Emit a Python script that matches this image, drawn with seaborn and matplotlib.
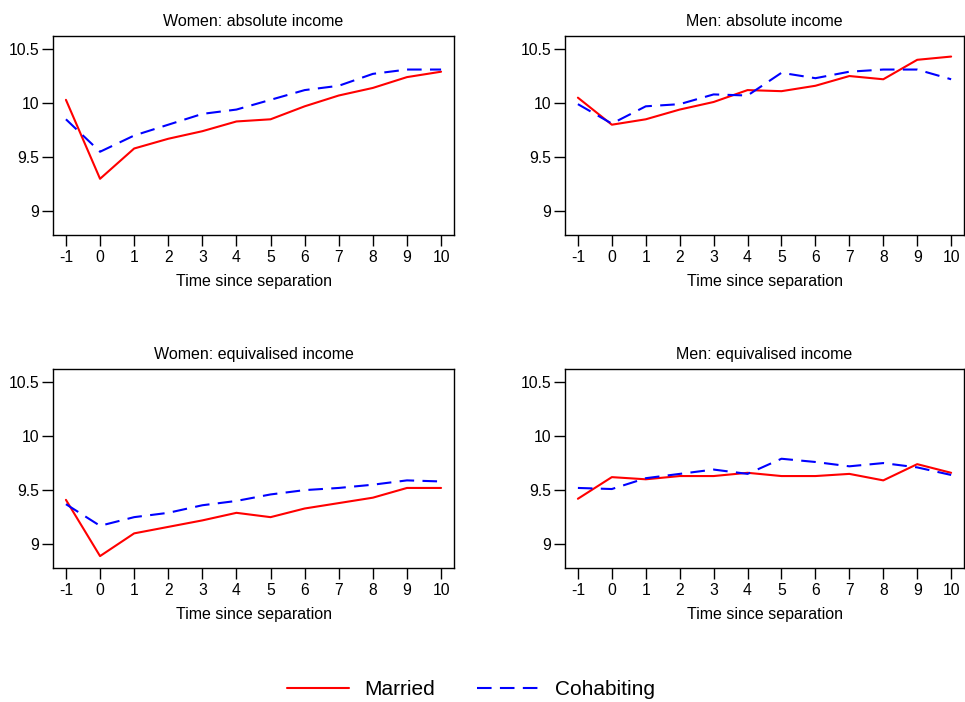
import numpy as np
import pandas as pd
import matplotlib
matplotlib.use("Agg")
import matplotlib.pyplot as plt
import seaborn as sns
from matplotlib.lines import Line2D

# ---- data ----
time = [-1, 0, 1, 2, 3, 4, 5, 6, 7, 8, 9, 10]
panel_titles = ["Women: absolute income", "Men: absolute income",
                "Women: equivalised income", "Men: equivalised income"]
groups = ["Married", "Cohabiting"]

women_abs_married = [10.03, 9.30, 9.58, 9.67, 9.74, 9.83, 9.85, 9.97, 10.07, 10.14, 10.24, 10.29]
women_abs_cohab = [9.85, 9.55, 9.70, 9.80, 9.90, 9.94, 10.03, 10.12, 10.16, 10.27, 10.31, 10.31]
men_abs_married = [10.05, 9.80, 9.85, 9.94, 10.01, 10.12, 10.11, 10.16, 10.25, 10.22, 10.40, 10.43]
men_abs_cohab = [9.99, 9.81, 9.97, 9.99, 10.08, 10.07, 10.28, 10.23, 10.29, 10.31, 10.31, 10.22]
women_eq_married = [9.41, 8.89, 9.10, 9.16, 9.22, 9.29, 9.25, 9.33, 9.38, 9.43, 9.52, 9.52]
women_eq_cohab = [9.37, 9.17, 9.25, 9.29, 9.36, 9.40, 9.46, 9.50, 9.52, 9.55, 9.59, 9.58]
men_eq_married = [9.42, 9.62, 9.60, 9.63, 9.63, 9.66, 9.63, 9.63, 9.65, 9.59, 9.74, 9.66]
men_eq_cohab = [9.52, 9.51, 9.61, 9.65, 9.69, 9.65, 9.79, 9.76, 9.72, 9.75, 9.71, 9.64]

y_ticks = [9, 9.5, 10, 10.5]
y_ticklabels = ["9", "9.5", "10", "10.5"]
x_label = "Time since separation"

series = [
    (women_abs_married, women_abs_cohab),
    (men_abs_married, men_abs_cohab),
    (women_eq_married, women_eq_cohab),
    (men_eq_married, men_eq_cohab),
]

rows = []
for title, (m, c) in zip(panel_titles, series):
    for t, v in zip(time, m):
        rows.append({"panel": title, "time": t, "value": v, "group": "Married"})
    for t, v in zip(time, c):
        rows.append({"panel": title, "time": t, "value": v, "group": "Cohabiting"})
df = pd.DataFrame(rows)

# ---- style ----
sns.set_theme(style="white")
plt.rcParams["font.family"] = ["Liberation Sans", "DejaVu Sans"]
plt.rcParams["axes.edgecolor"] = "black"
plt.rcParams["axes.linewidth"] = 1.0
plt.rcParams["text.color"] = "black"

fig = plt.figure(figsize=(9.65, 7.02), dpi=100)

positions = [
    [0.0549, 0.6652, 0.4156, 0.2835],
    [0.5855, 0.6652, 0.4135, 0.2835],
    [0.0549, 0.1909, 0.4156, 0.2835],
    [0.5855, 0.1909, 0.4135, 0.2835],
]

palette = {"Married": "#ff0000", "Cohabiting": "#0000ff"}
dashes = {"Married": "", "Cohabiting": (7, 4)}

for pos, title in zip(positions, panel_titles):
    ax = fig.add_axes(pos)
    sub = df[df["panel"] == title]
    sns.lineplot(data=sub, x="time", y="value", hue="group", style="group",
                 hue_order=groups, style_order=groups,
                 palette=palette, dashes=dashes, linewidth=1.5,
                 legend=False, ax=ax)
    ax.set_xlim(-1.38, 10.38)
    ax.set_ylim(8.78, 10.62)
    ax.set_xticks(time)
    ax.set_xticklabels([str(t) for t in time])
    ax.set_yticks(y_ticks)
    ax.set_yticklabels(y_ticklabels)
    ax.tick_params(axis="both", which="major", direction="out", length=8,
                   width=1, color="black", labelsize=11.3, labelcolor="black",
                   bottom=True, left=True)
    ax.tick_params(axis="x", pad=2.5)
    ax.tick_params(axis="y", pad=1.8)
    ax.set_xlabel(x_label, fontsize=11.5, color="black", labelpad=7)
    ax.set_ylabel("")
    ax.set_title(title, fontsize=11.5, color="black", pad=7)
    for s in ax.spines.values():
        s.set_visible(True)
        s.set_color("black")
        s.set_linewidth(1.0)

handles = [
    Line2D([0], [0], color=palette["Married"], lw=1.5),
    Line2D([0], [0], color=palette["Cohabiting"], lw=1.5, dashes=(7, 4)),
]
fig.legend(handles, groups, loc="center", bbox_to_anchor=(0.488, 0.018),
           ncol=2, frameon=False, fontsize=15, handlelength=3.0,
           handletextpad=0.75, columnspacing=2.0, labelcolor="black")

fig.savefig("out.png", dpi=100)
